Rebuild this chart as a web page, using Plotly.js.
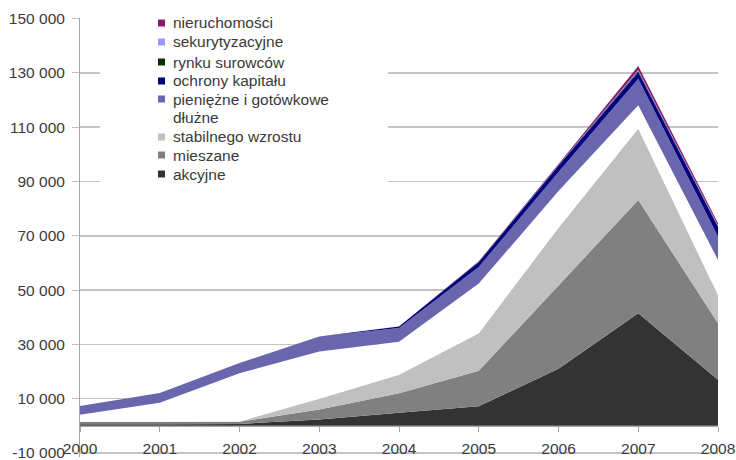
<!DOCTYPE html>
<html>
<head>
<meta charset="utf-8">
<script src="https://cdn.plot.ly/plotly-3.0.1.min.js"></script>
<style>html,body{margin:0;padding:0;background:#fff;}#chart{width:736px;height:460px;}</style>
</head>
<body>
<div id="chart"></div>
<script>
const years = [2000, 2001, 2002, 2003, 2004, 2005, 2006, 2007, 2008];
const akcyjne = [600, 600, 700, 2300, 4800, 7200, 21000, 41500, 17000];
const mieszane = [900, 900, 800, 3700, 7200, 13100, 30700, 41700, 20800];
const stabilnego = [0, 0, 100, 4000, 6800, 13800, 21300, 26300, 10400];
const dluzne = [2600, 7000, 17800, 17400, 12200, 18300, 13500, 8600, 12900];
const pieniezne = [3200, 3600, 3700, 5500, 5000, 6100, 7000, 9800, 8600];
const ochrony = [0, 0, 0, 0, 600, 1800, 2300, 2400, 3500];
const surowce = [0, 0, 0, 0, 0, 100, 200, 400, 300];
const sekurytyzacyjne = [0, 0, 0, 0, 0, 0, 100, 400, 300];
const nieruchomosci = [0, 0, 0, 0, 0, 200, 400, 1500, 800];

const seriesNames = ['akcyjne', 'mieszane', 'stabilnego wzrostu', 'dłużne', 'pieniężne i gotówkowe', 'ochrony kapitału', 'rynku surowców', 'sekurytyzacyjne', 'nieruchomości'];
const seriesValues = [akcyjne, mieszane, stabilnego, dluzne, pieniezne, ochrony, surowce, sekurytyzacyjne, nieruchomosci];
const seriesColors = ['#333333', '#808080', '#c0c0c0', '#ffffff', '#6a66ae', '#000080', '#003300', '#9999ff', '#8a1a70'];

const yTickVals = [-10000, 10000, 30000, 50000, 70000, 90000, 110000, 130000, 150000];
const yTickText = ['-10 000', '10 000', '30 000', '50 000', '70 000', '90 000', '110 000', '130 000', '150 000'];

const traces = seriesNames.map((n, i) => ({
  type: 'scatter', mode: 'none', name: n, x: years, y: seriesValues[i],
  stackgroup: 'one', fillcolor: seriesColors[i], line: {width: 0, color: seriesColors[i]},
  hoverinfo: 'x+y+name'
}));

// custom legend (top entry first)
const W = 638, H = 439, L = 80, T = 18;
const yMin = -11500, yMax = 150250;
const px = v => (v - L) / W;
const py = v => (T + H - v) / H;
const shapes = [
  {type: 'line', xref: 'paper', yref: 'y', x0: 0, x1: 1, y0: yTickVals[0], y1: yTickVals[0], line: {color: '#c4c4c4', width: 1.5}, layer: 'below'},
  {type: 'rect', xref: 'paper', yref: 'paper', x0: px(100), x1: px(388), y0: py(190), y1: py(0), fillcolor: '#ffffff', line: {width: 0}, layer: 'above'}
];
const annotations = [];
const rowY = [23, 42, 62, 81, 99, 117, 137, 155, 174];
for (let k = 0; k < seriesNames.length; k++) {
  const i = seriesNames.length - 1 - k;
  const yc = rowY[k];
  shapes.push({type: 'rect', xref: 'paper', yref: 'paper', x0: px(158), x1: px(165), y0: py(yc + 3.5), y1: py(yc - 3.5), fillcolor: seriesColors[i], line: {width: 0}, layer: 'above'});
  annotations.push({xref: 'paper', yref: 'paper', x: px(171), y: py(yc), xanchor: 'left', yanchor: 'middle', text: seriesNames[i], showarrow: false, font: {family: 'Liberation Sans, Arial, sans-serif', size: 15.5, color: '#3a3a3a'}});
}

const layout = {
  width: 736, height: 460,
  margin: {l: L, r: 736 - L - W, t: T, b: 460 - T - H, pad: 0},
  paper_bgcolor: '#ffffff', plot_bgcolor: '#ffffff',
  showlegend: false,
  font: {family: 'Liberation Sans, Arial, sans-serif', size: 15.5, color: '#3a3a3a'},
  xaxis: {
    range: [2000, 2008], tickvals: years, ticktext: years.map(String),
    anchor: 'free', position: (0 - yMin) / (yMax - yMin),
    showgrid: false, zeroline: false, showline: true, linecolor: '#a6a6a6', linewidth: 1,
    ticks: 'outside', ticklen: 5, tickcolor: '#a6a6a6', ticklabelstandoff: 4,
    ticklabeloverflow: 'allow',
    tickfont: {size: 15.5, color: '#3a3a3a'}
  },
  yaxis: {
    range: [yMin, yMax], tickvals: yTickVals, ticktext: yTickText,
    showgrid: true, gridcolor: '#c4c4c4', gridwidth: 1.5, zeroline: false,
    showline: true, linecolor: '#a6a6a6', linewidth: 1,
    ticks: 'outside', ticklen: 7, tickcolor: '#c4c4c4', ticklabelstandoff: 4,
    ticklabeloverflow: 'allow',
    tickfont: {size: 15.5, color: '#3a3a3a'}
  },
  shapes: shapes,
  annotations: annotations
};

Plotly.newPlot('chart', traces, layout, {displayModeBar: false, staticPlot: true});
</script>
</body>
</html>
